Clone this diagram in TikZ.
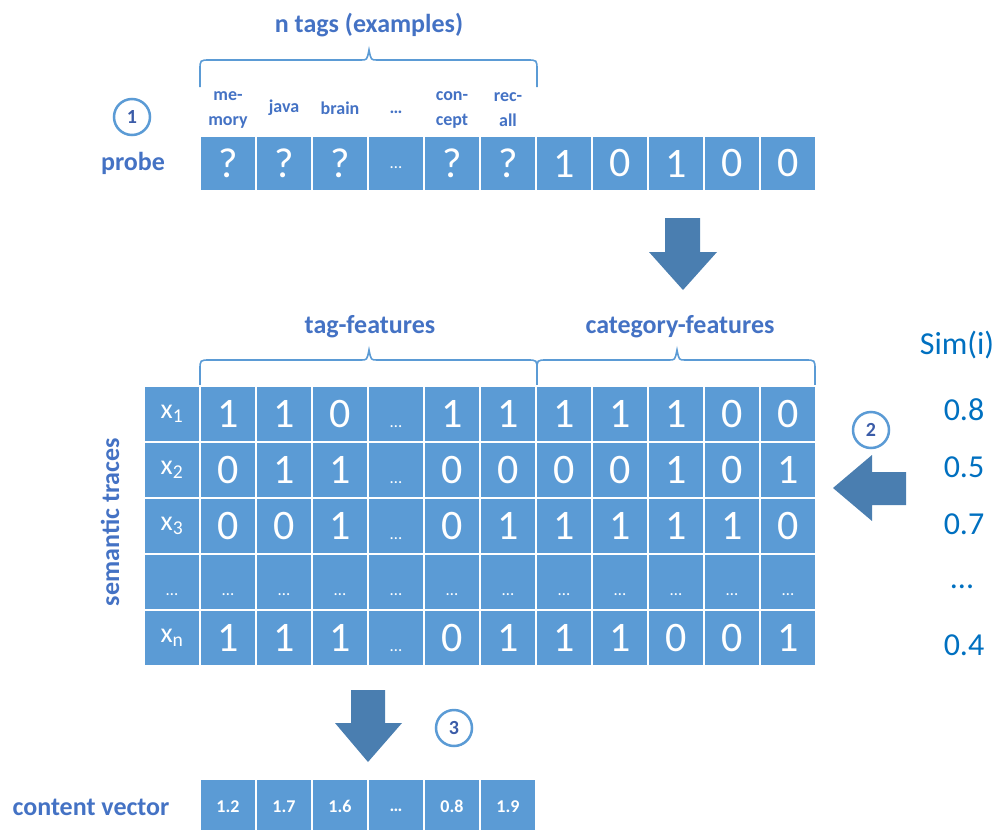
\documentclass[tikz,border=0pt]{standalone}
\usepackage{fontspec}
\setmainfont{Carlito}
\usetikzlibrary{positioning}

\definecolor{cellblue}{HTML}{5B9BD5}
\definecolor{arrowblue}{HTML}{4A7EB0}
\definecolor{labelblue}{HTML}{4472C4}
\definecolor{simblue}{HTML}{0070C0}
\definecolor{numblue}{HTML}{3B5CA8}

\begin{document}
\begin{tikzpicture}[
    x=1pt, y=-1pt,
    cell/.style={rectangle, fill=cellblue, draw=white, line width=2.5pt, minimum width=56pt, minimum height=56pt, inner sep=0pt, text=white, font=\fontsize{42}{42}\selectfont},
    dotcell/.style={cell, font=\fontsize{17}{17}\selectfont, text height=26pt, text depth=0pt},
    idcell/.style={cell, font=\fontsize{28}{28}\selectfont},
    valcell/.style={cell, font=\bfseries\fontsize{18}{18}\selectfont},
    tag/.style={text=labelblue, font=\bfseries\fontsize{18}{25}\selectfont, align=center},
    heading/.style={text=labelblue, font=\bfseries\fontsize{26}{26}\selectfont},
    simval/.style={text=simblue, font=\fontsize{32}{32}\selectfont},
    stepnum/.style={circle, draw=cellblue, line width=2.5pt, fill=white, minimum size=36pt, inner sep=0pt, text=numblue, font=\bfseries\fontsize{20}{20}\selectfont},
    brace/.style={draw=cellblue, line width=1.6pt},
    blockarrow/.style={fill=arrowblue}
]
\useasboundingbox (0,0) rectangle (999,830);

% Probe
\node[heading] (ntags) at (369,25) {n tags (examples)};
\draw[brace] (200,87) -- (200,70) .. controls (200,60) .. (210,60) -- (361,60) .. controls (367,60) .. (369,50) .. controls (371,60) .. (377,60) -- (527,60) .. controls (537,60) .. (537,70) -- (537,87);

\node[tag] (t1) at (228,110) {me-\\mory};
\node[tag] (t2) at (284,108) {java};
\node[tag] (t3) at (340,108) {brain};
\node[tag] (t4) at (396,112) {…};
\node[tag] (t5) at (452,110) {con-\\cept};
\node[tag] (t6) at (508,110) {rec-\\all};

\node[stepnum] (s1) at (132,117) {1};
\node[heading] (probe) at (133,163) {probe};

\node[cell] (p1) at (228,163.5) {?};
\node[cell] (p2) at (284,163.5) {?};
\node[cell] (p3) at (340,163.5) {?};
\node[dotcell, text height=9pt] (p4) at (396,163.5) {…};
\node[cell] (p5) at (452,163.5) {?};
\node[cell] (p6) at (508,163.5) {?};
\node[cell] (p7) at (564,163.5) {1};
\node[cell] (p8) at (620,163.5) {0};
\node[cell] (p9) at (676,163.5) {1};
\node[cell] (p10) at (732,163.5) {0};
\node[cell] (p11) at (788,163.5) {0};

\fill[blockarrow] (665,218) -- (700,218) -- (700,252) -- (717,252) -- (683,290) -- (649,252) -- (665,252) -- cycle;

% Semantic traces
\node[heading] (tagfeat) at (370,327) {tag-features};
\node[heading] (catfeat) at (680,327) {category-features};
\draw[brace] (200,387) -- (200,370) .. controls (200,360) .. (210,360) -- (361,360) .. controls (367,360) .. (369,350) .. controls (371,360) .. (377,360) -- (527,360) .. controls (537,360) .. (537,370) -- (537,387);
\draw[brace] (537,387) -- (537,370) .. controls (537,360) .. (547,360) -- (669,360) .. controls (675,360) .. (677,350) .. controls (679,360) .. (685,360) -- (805,360) .. controls (815,360) .. (815,370) -- (815,387);

\node[heading, rotate=90] (traces) at (110,522) {semantic traces};

\node[idcell] (a0) at (172,414) {x\textsubscript{1}};
\node[cell] (a1) at (228,414) {1}; \node[cell] (a2) at (284,414) {1}; \node[cell] (a3) at (340,414) {0};
\node[dotcell] (a4) at (396,414) {…};
\node[cell] (a5) at (452,414) {1}; \node[cell] (a6) at (508,414) {1};
\node[cell] (a7) at (564,414) {1}; \node[cell] (a8) at (620,414) {1}; \node[cell] (a9) at (676,414) {1}; \node[cell] (a10) at (732,414) {0}; \node[cell] (a11) at (788,414) {0};

\node[idcell] (b0) at (172,470) {x\textsubscript{2}};
\node[cell] (b1) at (228,470) {0}; \node[cell] (b2) at (284,470) {1}; \node[cell] (b3) at (340,470) {1};
\node[dotcell] (b4) at (396,470) {…};
\node[cell] (b5) at (452,470) {0}; \node[cell] (b6) at (508,470) {0};
\node[cell] (b7) at (564,470) {0}; \node[cell] (b8) at (620,470) {0}; \node[cell] (b9) at (676,470) {1}; \node[cell] (b10) at (732,470) {0}; \node[cell] (b11) at (788,470) {1};

\node[idcell] (c0) at (172,526) {x\textsubscript{3}};
\node[cell] (c1) at (228,526) {0}; \node[cell] (c2) at (284,526) {0}; \node[cell] (c3) at (340,526) {1};
\node[dotcell] (c4) at (396,526) {…};
\node[cell] (c5) at (452,526) {0}; \node[cell] (c6) at (508,526) {1};
\node[cell] (c7) at (564,526) {1}; \node[cell] (c8) at (620,526) {1}; \node[cell] (c9) at (676,526) {1}; \node[cell] (c10) at (732,526) {1}; \node[cell] (c11) at (788,526) {0};

\node[dotcell] (d0) at (172,582) {…};
\node[dotcell] (d1) at (228,582) {…}; \node[dotcell] (d2) at (284,582) {…}; \node[dotcell] (d3) at (340,582) {…};
\node[dotcell] (d4) at (396,582) {…};
\node[dotcell] (d5) at (452,582) {…}; \node[dotcell] (d6) at (508,582) {…};
\node[dotcell] (d7) at (564,582) {…}; \node[dotcell] (d8) at (620,582) {…}; \node[dotcell] (d9) at (676,582) {…}; \node[dotcell] (d10) at (732,582) {…}; \node[dotcell] (d11) at (788,582) {…};

\node[idcell] (e0) at (172,638) {x\textsubscript{n}};
\node[cell] (e1) at (228,638) {1}; \node[cell] (e2) at (284,638) {1}; \node[cell] (e3) at (340,638) {1};
\node[dotcell] (e4) at (396,638) {…};
\node[cell] (e5) at (452,638) {0}; \node[cell] (e6) at (508,638) {1};
\node[cell] (e7) at (564,638) {1}; \node[cell] (e8) at (620,638) {1}; \node[cell] (e9) at (676,638) {0}; \node[cell] (e10) at (732,638) {0}; \node[cell] (e11) at (788,638) {1};

% Similarities
\node[simval] (sim) at (957,345) {Sim(i)};
\node[simval] (sim1) at (964,410) {0.8};
\node[simval] (sim2) at (964,467) {0.5};
\node[simval] (sim3) at (964,524) {0.7};
\node[simval] (sim4) at (962,587) {...};
\node[simval] (sim5) at (964,645) {0.4};

\node[stepnum] (s2) at (871,430) {2};
\fill[blockarrow] (906,472) -- (906,505) -- (872,505) -- (872,521) -- (833,488) -- (872,455) -- (872,472) -- cycle;

% Content vector
\fill[blockarrow] (351,690) -- (385,690) -- (385,723) -- (402,723) -- (368,762) -- (335,723) -- (351,723) -- cycle;
\node[stepnum] (s3) at (454,728) {3};

\node[heading] (content) at (91,807) {content vector};
\node[valcell] (v1) at (228,806.5) {1.2};
\node[valcell] (v2) at (284,806.5) {1.7};
\node[valcell] (v3) at (340,806.5) {1.6};
\node[valcell, text height=10pt, text depth=0pt] (v4) at (396,806.5) {…};
\node[valcell] (v5) at (452,806.5) {0.8};
\node[valcell] (v6) at (508,806.5) {1.9};

\end{tikzpicture}
\end{document}
